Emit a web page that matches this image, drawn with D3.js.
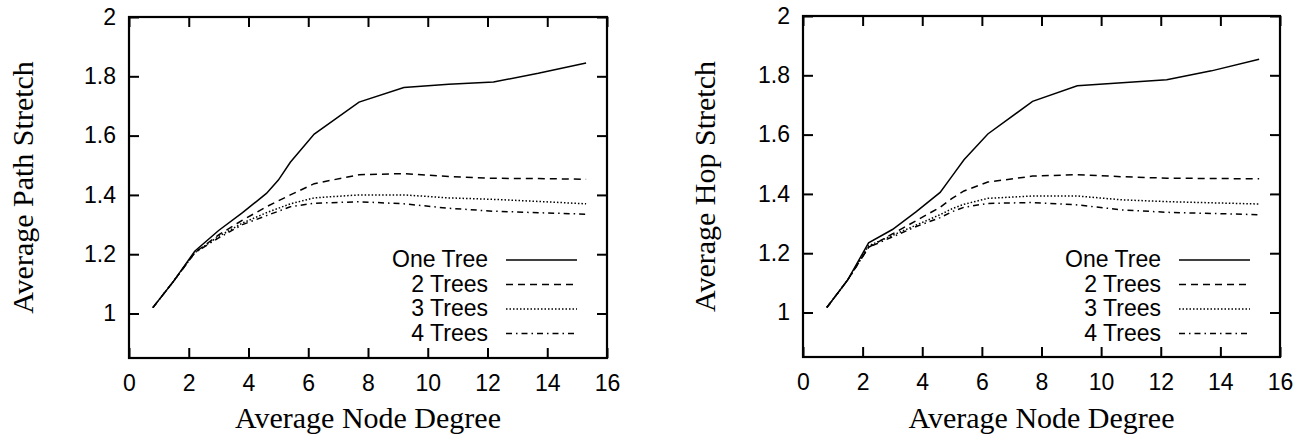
<!DOCTYPE html>
<html>
<head>
<meta charset="utf-8">
<script src="https://cdn.jsdelivr.net/npm/d3@7"></script>
<style>
  body { margin: 0; background: #fff; }
  svg { display: block; }
</style>
</head>
<body>
<div id="chart"></div>
<script>
// data
const degree = [0.8, 1.5, 2.2, 3.0, 3.8, 4.6, 5.0, 5.4, 6.2, 7.7, 9.2, 10.7, 12.2, 13.7, 15.3];
const seriesNames = ["One Tree", "2 Trees", "3 Trees", "4 Trees"];

const pathOne = [1.02, 1.11, 1.21, 1.28, 1.34, 1.405, 1.45, 1.51, 1.605, 1.713, 1.762, 1.773, 1.781, 1.81, 1.845];
const pathTwo = [1.02, 1.11, 1.205, 1.265, 1.315, 1.36, 1.38, 1.40, 1.438, 1.468, 1.472, 1.462, 1.456, 1.455, 1.453];
const pathThree = [1.02, 1.11, 1.205, 1.26, 1.305, 1.34, 1.355, 1.37, 1.39, 1.40, 1.40, 1.39, 1.385, 1.378, 1.37];
const pathFour = [1.02, 1.11, 1.205, 1.255, 1.30, 1.33, 1.345, 1.36, 1.372, 1.377, 1.37, 1.355, 1.345, 1.34, 1.335];

const hopOne = [1.017, 1.11, 1.235, 1.28, 1.34, 1.405, 1.46, 1.515, 1.602, 1.712, 1.765, 1.775, 1.785, 1.815, 1.854];
const hopTwo = [1.017, 1.11, 1.22, 1.265, 1.31, 1.355, 1.385, 1.41, 1.44, 1.46, 1.465, 1.458, 1.453, 1.452, 1.451];
const hopThree = [1.017, 1.11, 1.225, 1.26, 1.295, 1.33, 1.35, 1.365, 1.385, 1.393, 1.393, 1.38, 1.374, 1.37, 1.366];
const hopFour = [1.017, 1.11, 1.22, 1.255, 1.29, 1.32, 1.34, 1.355, 1.368, 1.371, 1.363, 1.346, 1.338, 1.334, 1.33];

const xTicks = [0, 2, 4, 6, 8, 10, 12, 14, 16];
const yTicks = [1, 1.2, 1.4, 1.6, 1.8, 2];

// line styles for the four series (gnuplot-like)
const dashes = [null, "7,5", "1.5,2", "6,4,1.5,4"];

const sans = "'Liberation Sans', Arial, sans-serif";
const serif = "'Liberation Serif', 'Times New Roman', serif";

const svg = d3
  .select("#chart")
  .append("svg")
  .attr("width", 1306)
  .attr("height", 436);

function drawPanel(left, top, right, bottom, title, series, labelX) {
  const xScale = d3.scaleLinear().domain([0, 16]).range([left, right]);
  const yScale = d3.scaleLinear().domain([0.85, 2]).range([bottom, top]);
  const g = svg.append("g");

  // frame
  g.append("rect")
    .attr("x", left)
    .attr("y", top)
    .attr("width", right - left)
    .attr("height", bottom - top)
    .attr("fill", "none")
    .attr("stroke", "#000")
    .attr("stroke-width", 2.2);

  // x axis (bottom) with inward ticks, mirrored on top
  const xAxis = d3
    .axisBottom(xScale)
    .tickValues(xTicks)
    .tickFormat(d3.format("d"))
    .tickSizeInner(-10)
    .tickSizeOuter(0)
    .tickPadding(17);
  g.append("g")
    .attr("transform", `translate(0, ${bottom})`)
    .call(xAxis)
    .call((a) => a.select(".domain").remove())
    .selectAll(".tick text")
    .style("font-family", sans)
    .style("font-size", "23px")
    .attr("fill", "#000");
  g.append("g")
    .attr("transform", `translate(0, ${top})`)
    .call(d3.axisTop(xScale).tickValues(xTicks).tickSizeInner(-10).tickSizeOuter(0).tickFormat(""))
    .call((a) => a.select(".domain").remove());

  // y axis (left) with inward ticks, mirrored on right
  const yAxis = d3
    .axisLeft(yScale)
    .tickValues(yTicks)
    .tickFormat((d) => d3.format("~g")(d))
    .tickSizeInner(-10)
    .tickSizeOuter(0)
    .tickPadding(13);
  g.append("g")
    .attr("transform", `translate(${left}, 0)`)
    .call(yAxis)
    .call((a) => a.select(".domain").remove())
    .selectAll(".tick text")
    .style("font-family", sans)
    .style("font-size", "23px")
    .attr("fill", "#000");
  g.append("g")
    .attr("transform", `translate(${right}, 0)`)
    .call(d3.axisRight(yScale).tickValues(yTicks).tickSizeInner(-10).tickSizeOuter(0).tickFormat(""))
    .call((a) => a.select(".domain").remove());

  g.selectAll(".tick line").attr("stroke", "#000").attr("stroke-width", 2);

  // series lines
  const line = d3
    .line()
    .x((d, i) => xScale(degree[i]))
    .y((d) => yScale(d));

  series.forEach((vals, k) => {
    g.append("path")
      .datum(vals)
      .attr("fill", "none")
      .attr("stroke", "#000")
      .attr("stroke-width", 1.5)
      .attr("stroke-dasharray", dashes[k])
      .attr("d", line);
  });

  // legend
  const legendY = 267;
  seriesNames.forEach((name, k) => {
    const y = legendY + k * 24.5;
    g.append("text")
      .attr("x", right - 119)
      .attr("y", y)
      .attr("text-anchor", "end")
      .style("font-family", sans)
      .style("font-size", "23px")
      .text(name);
    g.append("line")
      .attr("x1", right - 101)
      .attr("x2", right - 30)
      .attr("y1", y - 7)
      .attr("y2", y - 7)
      .attr("stroke", "#000")
      .attr("stroke-width", 1.5)
      .attr("stroke-dasharray", dashes[k]);
  });

  // x-axis label
  g.append("text")
    .attr("x", (left + right) / 2)
    .attr("y", 428)
    .attr("text-anchor", "middle")
    .style("font-family", serif)
    .style("font-size", "30px")
    .text("Average Node Degree");

  // y-axis label
  g.append("text")
    .attr("transform", `translate(${labelX}, ${(top + bottom) / 2}) rotate(-90)`)
    .attr("text-anchor", "middle")
    .style("font-family", serif)
    .style("font-size", "30px")
    .text(title);
}

drawPanel(129, 17, 607, 358, "Average Path Stretch", [pathOne, pathTwo, pathThree, pathFour], 33);
drawPanel(803, 16, 1280, 357, "Average Hop Stretch", [hopOne, hopTwo, hopThree, hopFour], 715);
</script>
</body>
</html>
